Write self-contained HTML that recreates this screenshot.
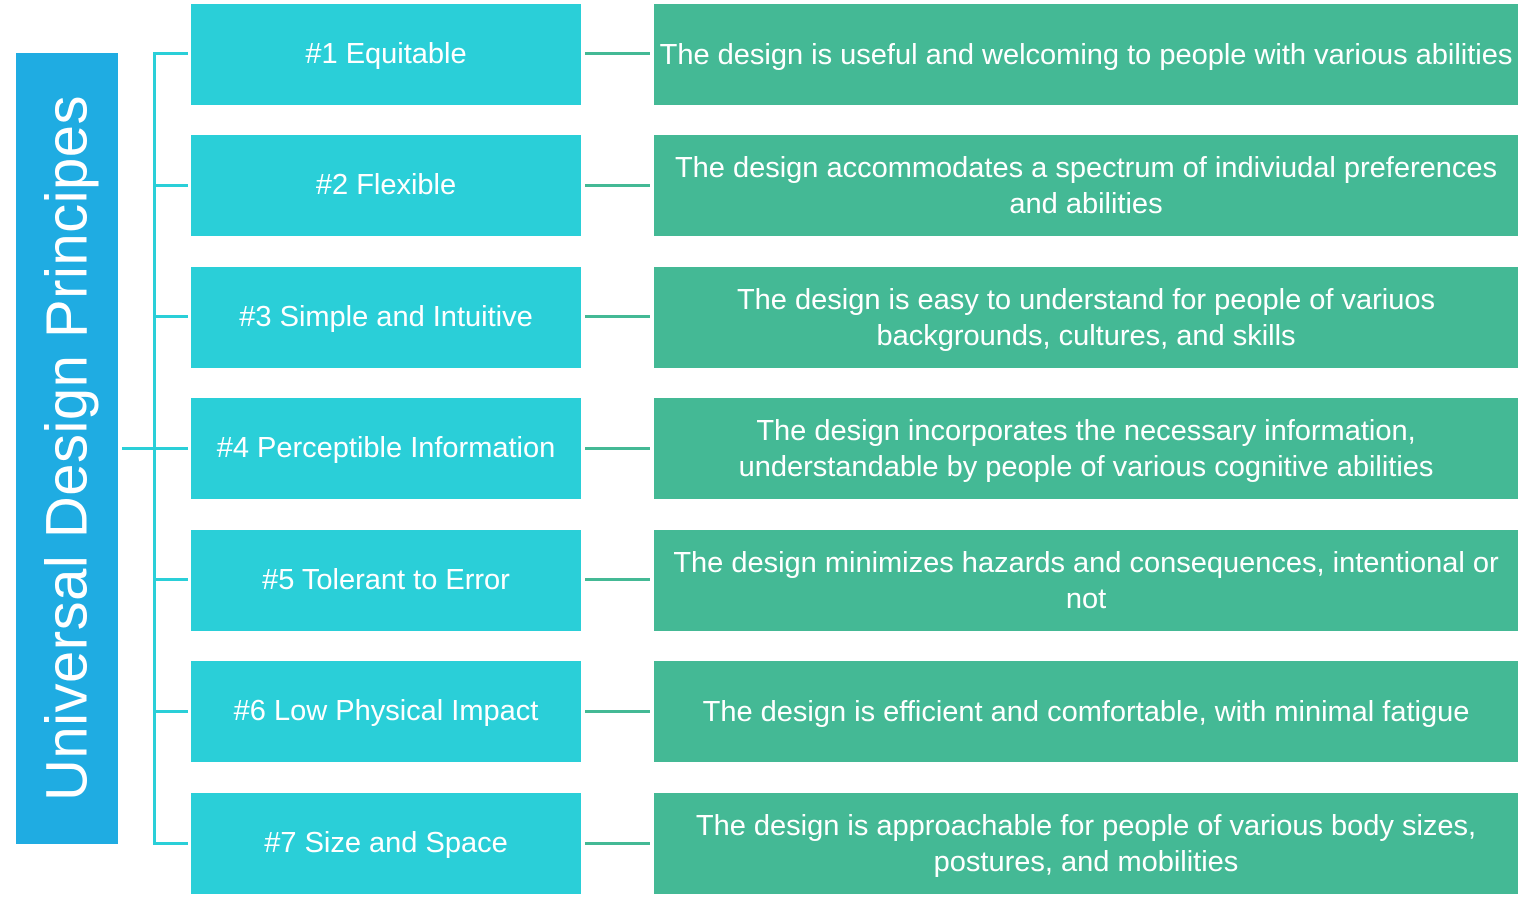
<!DOCTYPE html>
<html><head><style>
body{margin:0;width:1536px;height:898px;background:#fff;position:relative;overflow:hidden;font-family:"Liberation Sans",sans-serif;}
.t{position:absolute;left:16px;top:53px;width:102px;height:791px;background:#1FACE2;}
.t span{position:absolute;left:51px;top:395px;transform:translate(-50%,-50%) rotate(-90deg);white-space:nowrap;color:#fff;font-size:58px;letter-spacing:0.5px;}
.l{position:absolute;background:#2ACFD8;}
.g{position:absolute;background:#44B995;height:3px;left:585px;width:65px;}
.a{position:absolute;left:191px;width:390px;height:101px;background:#2ACFD8;color:#fff;font-size:29px;display:flex;align-items:center;justify-content:center;white-space:nowrap;}
.b{position:absolute;left:654px;width:864px;height:101px;background:#44B995;color:#fff;font-size:29px;line-height:36px;display:flex;align-items:center;justify-content:center;text-align:center;white-space:nowrap;}
</style></head><body>
<div class="t"><span>Universal Design Principes</span></div>
<div class="l" style="left:122px;top:447px;width:66px;height:3px"></div>
<div class="l" style="left:153px;top:52px;width:3px;height:793px"></div>
<div class="l" style="left:153px;top:52px;width:35px;height:3px"></div>
<div class="l" style="left:153px;top:184px;width:35px;height:3px"></div>
<div class="l" style="left:153px;top:315px;width:35px;height:3px"></div>
<div class="l" style="left:153px;top:578px;width:35px;height:3px"></div>
<div class="l" style="left:153px;top:710px;width:35px;height:3px"></div>
<div class="l" style="left:153px;top:842px;width:35px;height:3px"></div>

<div class="a" style="top:4px">#1 Equitable</div>
<div class="a" style="top:135px">#2 Flexible</div>
<div class="a" style="top:267px">#3 Simple and Intuitive</div>
<div class="a" style="top:398px">#4 Perceptible Information</div>
<div class="a" style="top:530px">#5 Tolerant to Error</div>
<div class="a" style="top:661px">#6 Low Physical Impact</div>
<div class="a" style="top:793px">#7 Size and Space</div>

<div class="g" style="top:52px"></div>
<div class="g" style="top:184px"></div>
<div class="g" style="top:315px"></div>
<div class="g" style="top:447px"></div>
<div class="g" style="top:578px"></div>
<div class="g" style="top:710px"></div>
<div class="g" style="top:842px"></div>

<div class="b" style="top:4px">The design is useful and welcoming to people with various abilities</div>
<div class="b" style="top:135px">The design accommodates a spectrum of indiviudal preferences<br>and abilities</div>
<div class="b" style="top:267px">The design is easy to understand for people of variuos<br>backgrounds, cultures, and skills</div>
<div class="b" style="top:398px">The design incorporates the necessary information,<br>understandable by people of various cognitive abilities</div>
<div class="b" style="top:530px">The design minimizes hazards and consequences, intentional or<br>not</div>
<div class="b" style="top:661px">The design is efficient and comfortable, with minimal fatigue</div>
<div class="b" style="top:793px">The design is approachable for people of various body sizes,<br>postures, and mobilities</div>
</body></html>
